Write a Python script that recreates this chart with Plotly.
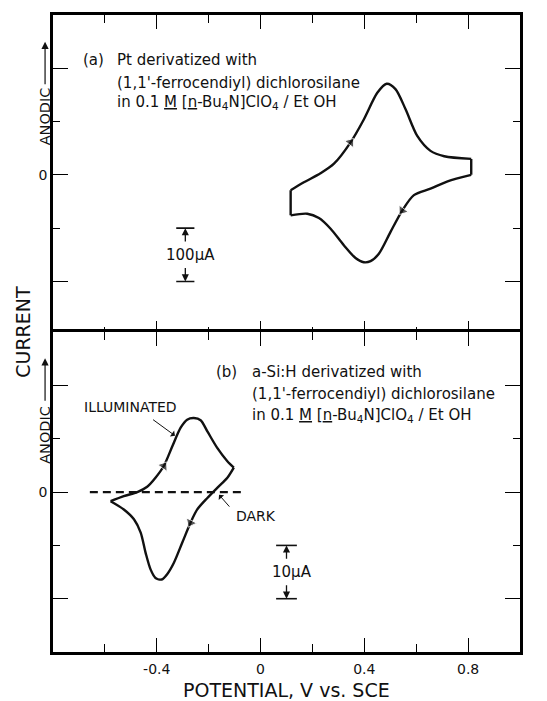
import plotly.graph_objects as go

# ---------------- data ----------------
# panel (a): Pt electrode, current in microamps
a_fwd_v = [0.116, 0.167, 0.231, 0.283, 0.347, 0.398, 0.450, 0.486, 0.520, 0.559, 0.604, 0.655, 0.708, 0.812]
a_fwd_i = [-29, -14, 3, 21, 61, 104, 154, 171, 161, 123, 73, 45, 35, 30]
a_rev_v = [0.812, 0.721, 0.655, 0.591, 0.546, 0.501, 0.456, 0.424, 0.398, 0.366, 0.321, 0.270, 0.225, 0.180, 0.116]
a_rev_i = [0, -12, -26, -38, -67, -107, -148, -162, -164, -156, -132, -101, -81, -73, -76]

# panel (b): a-Si:H electrode, illuminated, current in microamps
b_fwd_v = [-0.578, -0.527, -0.475, -0.437, -0.405, -0.373, -0.340, -0.308, -0.283, -0.257, -0.231, -0.205, -0.167, -0.128, -0.103]
b_fwd_i = [-1.7, -0.75, 0, 1.0, 2.7, 4.9, 8.6, 12.1, 13.6, 13.9, 13.5, 11.4, 8.3, 5.8, 4.6]
b_rev_v = [-0.103, -0.128, -0.167, -0.205, -0.244, -0.270, -0.302, -0.334, -0.360, -0.381, -0.405, -0.424, -0.443, -0.462, -0.488, -0.527, -0.578]
b_rev_i = [4.6, 2.7, 0.8, -1.1, -3.25, -5.75, -9.5, -13.25, -15.4, -16.4, -16.1, -14.5, -11.4, -7.6, -5.1, -3.25, -1.7]
# dark scan
dark_v = [-0.658, -0.071]
dark_i = [0, 0]

# direction arrows: index of arrow point in each branch (arrow drawn from previous point)
arrow_a_fwd = 4
arrow_a_rev = 4
arrow_b_fwd = 5
arrow_b_rev = 5

# scale bars
scale_a_x, scale_a_lo, scale_a_hi = -0.29, -200, -100
scale_b_x, scale_b_lo, scale_b_hi = 0.10, -20, -10

x_ticks = [-0.4, 0, 0.4, 0.8]
x_ticklabels = ["-0.4", "0", "0.4", "0.8"]
x_minor = [-0.6, -0.2, 0.2, 0.6]
ya_ticks, ya_minor = [-200, 0, 200], [-100, 100]
yb_ticks, yb_minor = [-20, 0, 20], [-10, 10]

FONT = "DejaVu Sans"
INK = "#111111"
LW = 2.5
H_PLOT = 640.0

fig = go.Figure()

def curve(x, y, xa, ya, shape="spline", dash="solid", width=2.4):
    fig.add_trace(go.Scatter(x=x, y=y, xaxis=xa, yaxis=ya, mode="lines",
                             line=dict(color=INK, width=width, shape=shape, smoothing=0.8, dash=dash),
                             hoverinfo="skip", showlegend=False))

def arrow_marker(xs, ys, idx, xa, ya):
    fig.add_trace(go.Scatter(x=[xs[idx - 1], xs[idx]], y=[ys[idx - 1], ys[idx]], xaxis=xa, yaxis=ya,
                             mode="markers",
                             marker=dict(symbol="triangle-up", size=[0, 10], color=INK, angleref="previous"),
                             hoverinfo="skip", showlegend=False))

# panel (a)
curve(a_fwd_v, a_fwd_i, "x", "y")
curve([a_fwd_v[-1], a_rev_v[0]], [a_fwd_i[-1], a_rev_i[0]], "x", "y", shape="linear")
curve(a_rev_v, a_rev_i, "x", "y")
curve([a_rev_v[-1], a_fwd_v[0]], [a_rev_i[-1], a_fwd_i[0]], "x", "y", shape="linear")
arrow_marker(a_fwd_v, a_fwd_i, arrow_a_fwd, "x", "y")
arrow_marker(a_rev_v, a_rev_i, arrow_a_rev, "x", "y")

# panel (b)
curve(b_fwd_v, b_fwd_i, "x2", "y2")
curve(b_rev_v, b_rev_i, "x2", "y2")
curve(dark_v, dark_i, "x2", "y2", shape="linear", dash="8px,5px", width=2.2)
arrow_marker(b_fwd_v, b_fwd_i, arrow_b_fwd, "x2", "y2")
arrow_marker(b_rev_v, b_rev_i, arrow_b_rev, "x2", "y2")

# scale bars (caps)
def scale_bar(xc, lo, hi, half, xa, ya, label, fs):
    for yv in (lo, hi):
        curve([xc - half, xc + half], [yv, yv], xa, ya, shape="linear", width=1.6)
    span = hi - lo
    mid = (hi + lo) / 2
    fig.add_annotation(x=xc, y=hi, ax=xc, ay=mid + 0.22 * span, xref=xa, yref=ya, axref=xa, ayref=ya,
                       text="", showarrow=True, arrowhead=2, arrowsize=1.1, arrowwidth=1.3, arrowcolor=INK)
    fig.add_annotation(x=xc, y=lo, ax=xc, ay=mid - 0.22 * span, xref=xa, yref=ya, axref=xa, ayref=ya,
                       text="", showarrow=True, arrowhead=2, arrowsize=1.1, arrowwidth=1.3, arrowcolor=INK)
    fig.add_annotation(x=xc + 0.02, y=mid, xref=xa, yref=ya, text=label, showarrow=False,
                       font=dict(family=FONT, size=fs, color=INK), xanchor="center", yanchor="middle")

scale_bar(scale_a_x, scale_a_lo, scale_a_hi, 0.035, "x", "y", "100µA", 15)
scale_bar(scale_b_x, scale_b_lo, scale_b_hi, 0.04, "x2", "y2", "10µA", 15)

def text(x, y, s, xa, ya, size=15, anchor="left"):
    fig.add_annotation(x=x, y=y, xref=xa, yref=ya, text=s, showarrow=False,
                       font=dict(family=FONT, size=size, color=INK), xanchor=anchor, yanchor="middle")

line3 = "in 0.1 <u>M</u> [<u>n</u>-Bu<sub>4</sub>N]ClO<sub>4</sub> / Et OH"
# panel (a) caption
text(-0.694, 216, "(a)", "x", "y")
text(-0.56, 216, "Pt derivatized with", "x", "y")
text(-0.56, 173, "(1,1'-ferrocendiyl) dichlorosilane", "x", "y")
text(-0.56, 135, line3, "x", "y")
# panel (b) caption
text(-0.181, 22.6, "(b)", "x2", "y2")
text(-0.04, 22.6, "a-Si:H derivatized with", "x2", "y2")
text(-0.04, 18.5, "(1,1'-ferrocendiyl) dichlorosilane", "x2", "y2")
text(-0.04, 14.4, line3, "x2", "y2")

# labels with pointers
text(-0.50, 15.9, "ILLUMINATED", "x2", "y2", size=14, anchor="center")
fig.add_annotation(x=-0.33, y=10.6, ax=-0.42, ay=13.8, xref="x2", yref="y2", axref="x2", ayref="y2",
                   text="", showarrow=True, arrowhead=1, arrowsize=1.2, arrowwidth=1, arrowcolor=INK)
text(-0.017, -4.4, "DARK", "x2", "y2", size=14, anchor="center")
fig.add_annotation(x=-0.16, y=-0.5, ax=-0.115, ay=-3.0, xref="x2", yref="y2", axref="x2", ayref="y2",
                   text="", showarrow=True, arrowhead=1, arrowsize=1.2, arrowwidth=1, arrowcolor=INK)

# axis titles / side labels (paper coords)
fig.add_annotation(x=-0.066, y=0.503, xref="paper", yref="paper", text="CURRENT", textangle=-90,
                   showarrow=False, font=dict(family=FONT, size=19, color=INK),
                   xanchor="center", yanchor="middle")
fig.add_annotation(x=0.5, y=-0.0595, xref="paper", yref="paper", text="POTENTIAL, V vs. SCE",
                   showarrow=False, font=dict(family=FONT, size=19, color=INK),
                   xanchor="center", yanchor="middle")
for yc, yhead in ((0.841, 0.958), (0.341, 0.461)):
    fig.add_annotation(x=-0.017, y=yc, xref="paper", yref="paper", text="ANODIC", textangle=-90,
                       showarrow=False, font=dict(family=FONT, size=14.5, color=INK),
                       xanchor="center", yanchor="middle")
    fig.add_annotation(x=-0.017, y=yhead, xref="paper", yref="paper", ax=0, ay=44, text="",
                       showarrow=True, arrowhead=2, arrowsize=1.2, arrowwidth=1.2, arrowcolor=INK)

xcommon = dict(range=[-0.8, 1.0], showline=True, linecolor="black", linewidth=LW, mirror="ticks",
               ticks="inside", ticklen=14, tickwidth=1.4, tickcolor="black",
               tickmode="array", tickvals=x_ticks, ticktext=x_ticklabels,
               minor=dict(tickmode="array", tickvals=x_minor, ticks="inside", ticklen=8, tickwidth=1.3,
                          tickcolor="black"),
               showgrid=False, zeroline=False,
               tickfont=dict(family=FONT, size=14, color=INK))

def ycommon(rng, ticks, minor):
    return dict(range=rng, showline=True, linecolor="black", linewidth=LW, mirror="ticks",
                ticks="inside", ticklen=15, tickwidth=1.4, tickcolor="black",
                tickmode="array", tickvals=ticks, ticktext=["" if t != 0 else "0" for t in ticks],
                minor=dict(tickmode="array", tickvals=minor, ticks="inside", ticklen=7, tickwidth=1.3,
                           tickcolor="black"),
                showgrid=False, zeroline=False,
                tickfont=dict(family=FONT, size=14, color=INK))

ov = (LW / 2) / H_PLOT  # overlap so the two frame lines at the divider coincide
fig.update_layout(
    width=547, height=701,
    margin=dict(l=53, r=27, t=12, b=49),
    paper_bgcolor="white", plot_bgcolor="white",
    showlegend=False,
    xaxis=dict(xcommon, anchor="y", showticklabels=False),
    yaxis=dict(ycommon([-300, 300], ya_ticks, ya_minor), domain=[0.5 - ov, 1.0], anchor="x"),
    xaxis2=dict(xcommon, anchor="y2", ticklabelstandoff=2),
    yaxis2=dict(ycommon([-30, 30], yb_ticks, yb_minor), domain=[0.0, 0.5 + ov], anchor="x2"),
)

fig.write_html("out.html")
